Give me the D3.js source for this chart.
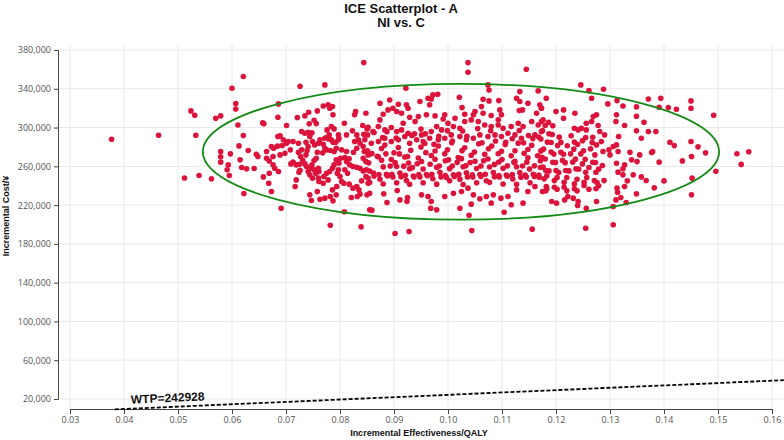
<!DOCTYPE html>
<html>
<head>
<meta charset="utf-8">
<title>ICE Scatterplot - A</title>
<script src="https://d3js.org/d3.v7.min.js"></script>
<style>
  body { margin: 0; background: #fff; }
  .tick text { font-family: "Open Sans", sans-serif; font-size: 9px; fill: #555; }
  .bold { font-family: "Liberation Sans", Arial, sans-serif; font-weight: bold; fill: #111; }
</style>
</head>
<body>
<div id="chart"></div>
<script>

// chart text
var titleLines = ["ICE Scatterplot - A", "NI vs. C"];
var xLabel = "Incremental Effectiveness/QALY";
var yLabel = "Incremental Cost/\u00a5";

// axes
var xTicks = [0.03, 0.04, 0.05, 0.06, 0.07, 0.08, 0.09, 0.10, 0.11, 0.12, 0.13, 0.14, 0.15, 0.16];
var yTicks = [20000, 60000, 100000, 140000, 180000, 220000, 260000, 300000, 340000, 380000];

// willingness to pay line
var wtp = 242928;
var wtpEffect = [0.0383, 0.1622];
var wtpLabelAt = 0.0413;

// confidence ellipse
var ellipseCenter = [0.1024, 275000];
var ellipseRadius = [0.0478, 70000];

// simulations: [incremental effect (QALY), incremental cost (thousand yuan)]
var leftCloud = [
 [0.0377,288],[0.0464,292],[0.0512,248],
 [0.0524,317.2],[0.0531,312.7],[0.0621,352.6],[0.0600,340.5],[0.0607,324.7],[0.0607,319.2],[0.0570,309.6],[0.0579,312.0],[0.0533,292.1],[0.0539,250.5],
 [0.0562,247.1],[0.0611,302.7],[0.0621,291.7],[0.0613,281.1],[0.0630,276.3],[0.0579,275.3],[0.0579,269.8],[0.0579,264.3],[0.0597,272.9],[0.0593,261.5],
 [0.0591,256.4],[0.0595,250.5],[0.0615,266.7],[0.0618,258.8],[0.0627,257.4],[0.0641,257.7],[0.0622,232.0],[0.0657,304.8],[0.0659,303.8],[0.0685,310.6],
 [0.0686,324.4],[0.0689,291.4],[0.0685,290.7],[0.0701,302.1],[0.0721,310.3],[0.0726,342.6],[0.0772,344.0],[0.0844,367.0],[0.0742,315.8],[0.0735,312.0],
 [0.0758,317.2],[0.0752,307.6],[0.0743,303.8],[0.0756,304.1],[0.0769,322.3],[0.0778,323.4],[0.0781,319.9],[0.0786,321.6],[0.0787,313.1],[0.0776,297.6],
 [0.0789,298.6],[0.0772,289.0],[0.0780,292.4],[0.0784,287.3],[0.0787,284.9],[0.0775,289.7],[0.0779,288.3],[0.0798,289.0],[0.0808,304.5],[0.0823,296.6],
 [0.0827,313.1],[0.0829,316.5],[0.0848,314.8],[0.0842,302.1],[0.0850,298.6],
 [0.0645,272.5],[0.0648,270.1],[0.0664,275.3],[0.0673,280.4],[0.0677,278.7],[0.0684,280.8],[0.0693,281.4],[0.0695,287.3],[0.0701,283.8],[0.0704,285.6],
 [0.0713,285.6],[0.0708,277.0],[0.0698,273.5],[0.0689,271.8],[0.0676,270.1],[0.0664,268.4],[0.0669,265.6],[0.0676,261.5],[0.0679,258.1],[0.0686,254.6],
 [0.0669,252.9],[0.0668,242.6],[0.0673,234.0],[0.0658,249.1],[0.0691,216.8],[0.0717,239.2],[0.0719,246.0],[0.0724,254.0],[0.0726,256.0],[0.0731,266.3],
 [0.0727,270.1],[0.0737,271.8],[0.0739,276.3],[0.0729,277.0],[0.0723,274.6],[0.0713,264.3],[0.0709,262.5],[0.0719,261.5],[0.0725,262.2],[0.0735,262.5],
 [0.0738,259.8],[0.0741,254.6],[0.0746,258.1],[0.0748,261.5],[0.0752,266.0],[0.0756,268.4],[0.0752,256.4],[0.0755,252.9],[0.0761,254.6],[0.0760,258.1],
 [0.0744,251.2],[0.0749,247.8],[0.0760,247.8],[0.0769,242.6],[0.0761,244.3],[0.0775,252.9],[0.0781,254.6],[0.0770,249.5],[0.0778,246.0],[0.0786,258.1],
 [0.0789,261.5],[0.0798,263.2],[0.0793,266.7],[0.0801,268.4],[0.0809,269.1],[0.0812,264.9],[0.0817,267.7],[0.0818,261.5],[0.0824,259.8],[0.0831,259.1],
 [0.0837,258.1],[0.0843,255.3],[0.0849,256.4],[0.0803,277.0],[0.0812,275.3],[0.0825,274.6],[0.0831,278.7],[0.0837,283.8],[0.0843,280.4],[0.0845,275.3],
 [0.0852,271.8],[0.0809,256.4],[0.0814,252.9],[0.0800,249.5],[0.0803,244.3],[0.0807,242.6],[0.0817,241.6],[0.0824,237.5],[0.0831,239.2],[0.0835,235.7],
 [0.0840,245.0],[0.0848,249.5],[0.0852,247.8],[0.0794,239.2],[0.0786,235.7],[0.0782,228.9],[0.0787,224.4],[0.0772,227.2],[0.0763,226.1],[0.0747,224.7],
 [0.0744,230.6],[0.0758,234.0],[0.0793,230.6],[0.0821,227.8],[0.0832,228.9],[0.0837,231.3],[0.0808,213.1],[0.0782,199.3],[0.0839,197.6],[0.0850,230.6],
 [0.0852,242.6],[0.0831,292.4],[0.0834,287.3],[0.0827,285.6],[0.0812,292.4],[0.0844,293.1],[0.0846,287.3],[0.0729,295.9],[0.0735,294.2],[0.0741,295.2],
 [0.0748,294.6],[0.0744,290.7],[0.0749,285.6],[0.0753,282.1],[0.0737,284.9],[0.0741,280.4],[0.0723,283.8],[0.0758,274.6],[0.0768,273.9],[0.0775,277.0],
 [0.0782,276.3],[0.0789,275.3],[0.0793,278.7],[0.0769,282.8],[0.0772,278.7],[0.0763,287.3],[0.0760,283.8],[0.0792,284.9],[0.0797,287.3],[0.0797,292.4],
 [0.0784,301.0],[0.0843,268.4],[0.0848,264.9],[0.0797,256.4],[0.0795,252.9]
];

var midCloud = [
 [0.1037,367.0],[0.1037,357.0],[0.1145,360.1],[0.0902,190.7],[0.0928,192.8],[0.1044,193.8],[0.1156,195.2],[0.1039,209.6],[0.1104,212.7],[0.0855,215.1],
 [0.0859,214.8],[0.0968,216.8],[0.0979,215.1],[0.0922,340.5],[0.1074,344.0],[0.1076,338.8],
 [0.0892,328.5],[0.0874,325.1],[0.0908,324.0],[0.0923,323.4],[0.0926,319.9],[0.0948,326.8],[0.0963,330.2],[0.0972,333.7],[0.0981,334.4],[0.0969,329.5],
 [0.0966,323.4],[0.1021,331.3],[0.1026,320.6],[0.1065,329.2],[0.1062,321.6],[0.1076,327.5],[0.1094,327.8],[0.1096,318.2],[0.1133,337.1],[0.1167,337.8],
 [0.1133,326.8],[0.1148,325.1],[0.1127,330.2],[0.1170,323.4],[0.1173,319.9],[0.1164,314.8],[0.1138,318.2],[0.1132,317.5],[0.1099,313.1],[0.1093,307.9],
 [0.1080,312.4],[0.1065,314.8],[0.1050,316.5],[0.1047,313.1],[0.1031,313.7],[0.1013,309.6],[0.0994,313.1],[0.0991,308.9],[0.0976,312.0],[0.0960,313.1],
 [0.0945,311.3],[0.0939,306.2],[0.0929,310.6],[0.0914,314.8],[0.0905,316.5],[0.0898,319.9],[0.0889,318.2],[0.0880,313.7],[0.0874,307.9],[0.0871,301.0],
 [0.0852,300.3],[0.0851,292.4],[0.0861,295.9],[0.0883,297.6],[0.0895,300.0],[0.0905,295.9],[0.0917,304.5],[0.0914,297.6],[0.0926,294.2],[0.0938,293.5],
 [0.0951,292.4],[0.0969,295.9],[0.0979,301.0],[0.0988,297.6],[0.1000,304.5],[0.1010,301.0],[0.1022,299.3],[0.1031,306.2],[0.1043,307.9],[0.1056,306.2],
 [0.1068,302.7],[0.1080,301.0],[0.1093,302.7],[0.1102,299.3],[0.1117,301.0],[0.1130,304.5],[0.1139,301.0],[0.1155,306.2],[0.1167,302.7],[0.1176,307.9],
 [0.1173,295.9],[0.1161,292.4],[0.1149,291.7],[0.1136,289.0],[0.1124,292.4],[0.1111,294.2],[0.1099,290.7],[0.1087,292.4],[0.1074,290.7],[0.1059,292.4],
 [0.1047,289.0],[0.1034,287.3],[0.1022,290.7],[0.1006,292.4],[0.0994,289.0],[0.0982,287.3],[0.0966,289.0],[0.0954,285.6],[0.0942,287.3],[0.0929,283.8],
 [0.0920,290.7],[0.0908,287.3],[0.0895,285.6],[0.0883,289.0],[0.0871,285.6],[0.0858,283.8],
 [0.0851,276.1],[0.0859,273.2],[0.0877,278.4],[0.0883,281.9],[0.0900,274.0],[0.0908,279.5],[0.0925,270.2],[0.0931,276.6],[0.0950,279.9],[0.0957,283.5],
 [0.0976,275.8],[0.0982,280.9],[0.0999,277.1],[0.1007,284.4],[0.1026,276.2],[0.1031,279.1],[0.1049,274.8],[0.1057,283.3],[0.1075,278.2],[0.1081,281.0],
 [0.1099,275.6],[0.1106,282.6],[0.1124,276.0],[0.1130,283.9],[0.1148,277.4],[0.1155,281.7],[0.1172,275.9],
 [0.1166,270.9],[0.1148,268.9],[0.1141,273.4],[0.1124,265.1],[0.1117,270.8],[0.1100,267.1],[0.1093,273.0],[0.1074,267.6],[0.1068,272.4],[0.1050,265.2],
 [0.1043,271.5],[0.1025,267.9],[0.1019,269.0],[0.1001,266.7],[0.0994,272.9],[0.0976,267.3],[0.0969,271.2],[0.0951,265.0],[0.0945,268.6],[0.0927,263.4],
 [0.0920,269.6],[0.0902,263.8],[0.0895,267.0],[0.0877,266.2],[0.0871,269.9],[0.0853,263.6],
 [0.0855,255.1],[0.0862,253.0],[0.0880,259.4],[0.0886,251.7],[0.0905,259.9],[0.0911,253.2],[0.0929,257.5],[0.0936,250.0],[0.0954,257.2],[0.0960,251.6],
 [0.0979,259.0],[0.0985,253.9],[0.1003,257.6],[0.1010,251.2],[0.1028,259.5],[0.1034,253.4],[0.1053,257.7],[0.1059,251.5],[0.1077,259.3],[0.1084,253.7],
 [0.1102,257.9],[0.1108,251.0],[0.1127,259.6],[0.1133,253.5],[0.1151,257.3],[0.1158,251.8],[0.1176,259.2],
 [0.1169,248.7],[0.1152,243.0],[0.1145,249.1],[0.1127,241.4],[0.1120,246.9],[0.1102,241.7],[0.1095,249.0],[0.1077,243.5],[0.1071,245.2],[0.1053,243.0],
 [0.1046,248.9],[0.1028,241.3],[0.1022,246.8],[0.1003,245.2],[0.0997,248.6],[0.0979,241.6],[0.0972,247.2],[0.0954,243.1],[0.0948,248.9],[0.0929,241.5],
 [0.0923,245.3],[0.0905,243.1],[0.0898,249.0],[0.0880,241.8],[0.0874,246.7],[0.0855,243.4],
 [0.0855,232.3],[0.0881,231.6],[0.0906,235.1],[0.0925,227.8],[0.0911,225.4],[0.0951,230.6],[0.0963,228.9],[0.0969,223.7],[0.0994,228.9],[0.1010,232.3],
 [0.1025,234.0],[0.1037,237.5],[0.1047,230.6],[0.1059,226.5],[0.1071,228.9],[0.1084,230.6],[0.1098,227.2],[0.1111,228.9],[0.1127,235.7],[0.1139,222.0],
 [0.1148,234.0],[0.1161,239.2],[0.1175,234.0],[0.0887,222.7],[0.0924,223.7],[0.1022,216.8],[0.1043,221.0],[0.1080,222.0],[0.1117,220.3],
 [0.0863,294.9],[0.0879,289.6],[0.0887,295.8],[0.0904,289.3],[0.0933,291.9],[0.0950,298.4],[0.0958,293.5],[0.0974,282.7],[0.0983,291.1],[0.0999,296.8],
 [0.1008,286.2],[0.1027,296.5],[0.1035,291.0],[0.1055,298.9],[0.1063,284.4],[0.1079,296.7],[0.1088,286.1],[0.1107,284.9],[0.1119,288.4],[0.1132,297.0],
 [0.1140,284.3],[0.1157,288.6],[0.1168,290.2],
 [0.0855,272.6],[0.0869,270.4],[0.0885,272.9],[0.0893,260.3],[0.0910,272.8],[0.0918,260.2],[0.0934,258.7],[0.0943,262.6],[0.0959,274.1],[0.0967,262.1],
 [0.0984,260.4],[0.0995,265.8],[0.1008,260.4],[0.1017,264.1],[0.1033,260.6],[0.1041,264.0],[0.1061,260.3],[0.1066,265.8],[0.1086,262.0],[0.1094,264.4],
 [0.1110,260.5],[0.1122,264.1],[0.1138,260.4],[0.1146,264.3],[0.1160,260.6],[0.1171,265.7],
 [0.0863,249.9],[0.0872,251.5],[0.0888,250.0],[0.0896,251.9],[0.0913,249.3],[0.0921,250.8],[0.0937,249.0],[0.0946,251.6],[0.0962,250.3],[0.0970,251.7],
 [0.0987,249.1],[0.0995,250.5],[0.1012,249.6],[0.1020,251.9],[0.1036,248.9],[0.1045,251.3],[0.1061,249.4],[0.1069,251.8],[0.1086,249.2],[0.1094,250.6],
 [0.1110,249.8],[0.1119,251.4],[0.1135,248.8],[0.1143,251.1],[0.1160,249.5],[0.1168,250.9]
];

var rightCloud = [
 [0.1535,273],[0.1543,262],[0.1557,275],
 [0.1246,344.0],[0.1261,338.1],[0.1288,339.5],[0.1266,330.2],[0.1296,324.4],[0.1313,327.8],[0.1324,322.3],[0.1349,321.3],[0.1371,329.5],[0.1394,330.2],
 [0.1391,321.0],[0.1408,320.6],[0.1423,318.9],[0.1450,327.5],[0.1450,319.9],[0.1492,312.7],[0.1496,255.0],[0.1451,230.6],[0.1255,196.2],[0.1306,199.7],
 [0.1306,218.6],[0.1330,222.7],[0.1349,231.6],[0.1382,237.8],[0.1400,245.0],[0.1452,247.8],[0.1434,265.6],[0.1411,284.9],[0.1419,281.4],[0.1450,285.6],
 [0.1463,280.1],[0.1477,273.9],[0.1451,270.1],[0.1391,264.3],[0.1379,275.3],[0.1377,274.2],[0.1385,295.9],[0.1371,295.9],[0.1358,289.0],[0.1363,305.5],
 [0.1349,311.6],[0.1349,296.6],[0.1327,302.1],[0.1312,313.1],[0.1311,306.2],[0.1316,290.7],[0.1315,275.3],[0.1337,274.6],[0.1340,266.7],[0.1350,264.9],
 [0.1355,271.8],[0.1358,249.1],[0.1367,245.4],[0.1343,251.2],[0.1332,245.0],[0.1327,239.2],[0.1313,237.5],[0.1314,233.3],[0.1311,225.4],[0.1320,227.8],
 [0.1324,251.2],[0.1315,254.0],[0.1327,261.5],[0.1324,257.4],[0.1312,263.2],[0.1312,282.1],[0.1306,280.4],[0.1300,271.8],[0.1298,277.0],[0.1287,275.3],
 [0.1290,292.4],[0.1278,302.1],[0.1281,295.9],[0.1284,285.6],[0.1275,282.1],[0.1272,271.8],[0.1275,313.1],[0.1269,311.3],[0.1266,306.2],[0.1256,304.5],
 [0.1256,297.6],[0.1247,299.3],[0.1235,314.8],[0.1234,299.3],[0.1241,297.6],[0.1214,309.6],[0.1214,318.2],[0.1200,316.5],[0.1182,330.2],[0.1173,319.9],
 [0.1173,306.2],[0.1180,302.1],[0.1186,305.3],[0.1194,301.9],[0.1175,296.8],[0.1187,293.6],[0.1193,292.9],[0.1206,290.1],[0.1172,288.2],[0.1184,285.0],
 [0.1191,284.6],[0.1203,281.4],[0.1209,284.7],[0.1221,281.3],[0.1228,291.5],[0.1234,285.0],[0.1240,282.8],[0.1249,286.5],[0.1255,289.8],[0.1268,290.0],
 [0.1267,284.5],[0.1264,278.0],[0.1251,276.0],[0.1246,272.8],[0.1233,277.7],[0.1227,272.9],[0.1214,272.5],[0.1209,274.6],[0.1196,272.6],[0.1191,274.7],
 [0.1177,277.8],[0.1174,269.4],[0.1180,267.5],[0.1194,264.2],[0.1199,263.9],[0.1212,266.1],[0.1217,263.8],[0.1231,264.3],[0.1236,267.4],[0.1249,262.5],
 [0.1254,267.3],[0.1268,264.2],[0.1273,263.9],[0.1286,260.8],[0.1279,257.1],[0.1274,253.9],[0.1261,258.8],[0.1255,253.9],[0.1242,257.1],[0.1237,257.4],
 [0.1224,255.3],[0.1218,255.7],[0.1205,253.6],[0.1200,255.7],[0.1187,255.3],[0.1181,255.7],[0.1171,258.8],[0.1178,247.1],[0.1183,250.2],[0.1197,245.3],
 [0.1202,248.5],[0.1215,243.6],[0.1220,248.5],[0.1234,241.9],[0.1239,246.7],[0.1252,243.6],[0.1257,248.5],[0.1271,245.3],[0.1276,243.3],[0.1289,245.3],
 [0.1279,239.9],[0.1274,236.8],[0.1261,236.4],[0.1252,240.2],[0.1239,234.7],[0.1234,236.8],[0.1220,234.7],[0.1215,238.5],[0.1202,236.4],[0.1197,238.5],
 [0.1183,236.8],[0.1181,234.7],[0.1192,223.7],[0.1201,222.0],[0.1216,225.4],[0.1222,228.9],[0.1232,227.2],[0.1241,223.7],[0.1240,219.6],[0.1275,223.7],
 [0.1256,216.8],[0.1182,239.2]
];

var width = 784, height = 440;
var axisLeftX = 58, axisBottomY = 409, plotTop = 44, plotRight = 784;

var svg = d3.select("#chart")
  .append("svg")
    .attr("width", width)
    .attr("height", height)
    .style("background", "#fff");

var x = d3.scaleLinear().domain([0.03, 0.16]).range([70, 772]);
var y = d3.scaleLinear().domain([20000, 380000]).range([399, 50]);

// grid
svg.append("g")
  .selectAll("line")
  .data(xTicks)
  .enter().append("line")
    .attr("x1", function(d) { return x(d); })
    .attr("x2", function(d) { return x(d); })
    .attr("y1", plotTop)
    .attr("y2", axisBottomY)
    .attr("stroke", "#e9e9e9");

svg.append("g")
  .selectAll("line")
  .data(yTicks)
  .enter().append("line")
    .attr("x1", axisLeftX)
    .attr("x2", plotRight)
    .attr("y1", function(d) { return y(d); })
    .attr("y2", function(d) { return y(d); })
    .attr("stroke", "#e9e9e9");

// axes
var gx = svg.append("g")
  .attr("transform", "translate(0," + axisBottomY + ")")
  .call(d3.axisBottom(x).tickValues(xTicks).tickFormat(d3.format(".2f")).tickSize(5));

var gy = svg.append("g")
  .attr("transform", "translate(" + axisLeftX + ",0)")
  .call(d3.axisLeft(y).tickValues(yTicks).tickFormat(d3.format(",")).tickSize(4));

[gx, gy].forEach(function(g) {
  g.select(".domain").attr("stroke", "#444");
  g.selectAll(".tick line").attr("stroke", "#444");
});

// simulated points
var points = leftCloud.concat(midCloud, rightCloud);
svg.append("g")
  .selectAll("circle")
  .data(points)
  .enter().append("circle")
    .attr("cx", function(d) { return x(d[0]); })
    .attr("cy", function(d) { return y(d[1] * 1000); })
    .attr("r", 2.8)
    .attr("fill", "#dc143c");

// ellipse
svg.append("ellipse")
  .attr("cx", x(ellipseCenter[0]))
  .attr("cy", y(ellipseCenter[1]))
  .attr("rx", x(ellipseCenter[0] + ellipseRadius[0]) - x(ellipseCenter[0]))
  .attr("ry", y(ellipseCenter[1] - ellipseRadius[1]) - y(ellipseCenter[1]))
  .attr("fill", "none")
  .attr("stroke", "#138a13")
  .attr("stroke-width", 1.8);

// WTP threshold
var wtpLine = d3.line()
  .x(function(d) { return x(d); })
  .y(function(d) { return y(wtp * d); });

svg.append("path")
  .attr("d", wtpLine(wtpEffect))
  .attr("fill", "none")
  .attr("stroke", "#000")
  .attr("stroke-width", 1.8)
  .attr("stroke-dasharray", "4,2");

var angle = Math.atan2(y(wtp * wtpEffect[1]) - y(wtp * wtpEffect[0]),
                       x(wtpEffect[1]) - x(wtpEffect[0])) * 180 / Math.PI;
var lx = x(wtpLabelAt), ly = y(wtp * wtpLabelAt) - 5;
svg.append("text")
  .attr("class", "bold")
  .attr("transform", "translate(" + lx + "," + ly + ") rotate(" + angle + ")")
  .style("font-size", "12px")
  .text("WTP=" + wtp);

// titles
svg.append("text")
  .attr("class", "bold")
  .attr("x", 401).attr("y", 13)
  .attr("text-anchor", "middle")
  .style("font-size", "13px")
  .text(titleLines[0]);
svg.append("text")
  .attr("class", "bold")
  .attr("x", 401).attr("y", 27)
  .attr("text-anchor", "middle")
  .style("font-size", "13px")
  .text(titleLines[1]);

svg.append("text")
  .attr("class", "bold")
  .attr("x", 419).attr("y", 436)
  .attr("text-anchor", "middle")
  .style("font-size", "9px")
  .text(xLabel);

svg.append("text")
  .attr("class", "bold")
  .attr("transform", "translate(9,216) rotate(-90)")
  .attr("text-anchor", "middle")
  .style("font-size", "9px")
  .text(yLabel);

</script>
</body>
</html>
